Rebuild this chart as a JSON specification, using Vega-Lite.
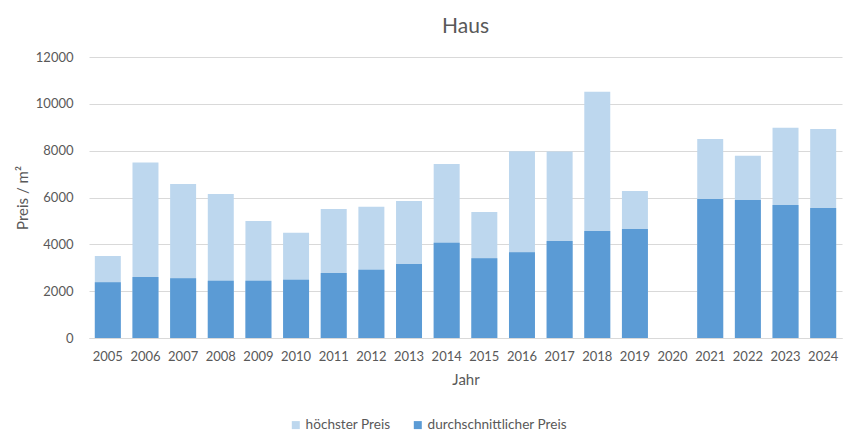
{
  "$schema": "https://vega.github.io/schema/vega-lite/v6.json",
  "autosize": {"type": "none"},
  "padding": {"left": 89, "top": 57, "right": 7, "bottom": 96},
  "width": 753,
  "height": 281,
  "background": "white",
  "title": {"text": "Haus", "anchor": "middle", "fontSize": 21, "font": "Lato", "fontWeight": "normal", "color": "#595959", "offset": 14},
  "config": {
    "view": {"stroke": null},
    "axis": {"labelFont": "Lato", "titleFont": "Lato", "labelColor": "#595959", "titleColor": "#595959", "labelFontSize": 13, "titleFontSize": 15, "titleFontWeight": "normal"},
    "legend": {"labelFont": "Lato", "labelColor": "#595959", "labelFontSize": 13.6}
  },
  "data": {"values": [
    {"Jahr": "2005", "Serie": "höchster Preis", "Preis": 3500},
    {"Jahr": "2006", "Serie": "höchster Preis", "Preis": 7500},
    {"Jahr": "2007", "Serie": "höchster Preis", "Preis": 6580},
    {"Jahr": "2008", "Serie": "höchster Preis", "Preis": 6150},
    {"Jahr": "2009", "Serie": "höchster Preis", "Preis": 5000},
    {"Jahr": "2010", "Serie": "höchster Preis", "Preis": 4500},
    {"Jahr": "2011", "Serie": "höchster Preis", "Preis": 5510},
    {"Jahr": "2012", "Serie": "höchster Preis", "Preis": 5600},
    {"Jahr": "2013", "Serie": "höchster Preis", "Preis": 5850},
    {"Jahr": "2014", "Serie": "höchster Preis", "Preis": 7430},
    {"Jahr": "2015", "Serie": "höchster Preis", "Preis": 5380},
    {"Jahr": "2016", "Serie": "höchster Preis", "Preis": 7980},
    {"Jahr": "2017", "Serie": "höchster Preis", "Preis": 7960},
    {"Jahr": "2018", "Serie": "höchster Preis", "Preis": 10520},
    {"Jahr": "2019", "Serie": "höchster Preis", "Preis": 6280},
    {"Jahr": "2021", "Serie": "höchster Preis", "Preis": 8500},
    {"Jahr": "2022", "Serie": "höchster Preis", "Preis": 7780},
    {"Jahr": "2023", "Serie": "höchster Preis", "Preis": 8975},
    {"Jahr": "2024", "Serie": "höchster Preis", "Preis": 8930},
    {"Jahr": "2005", "Serie": "durchschnittlicher Preis", "Preis": 2385},
    {"Jahr": "2006", "Serie": "durchschnittlicher Preis", "Preis": 2600},
    {"Jahr": "2007", "Serie": "durchschnittlicher Preis", "Preis": 2555},
    {"Jahr": "2008", "Serie": "durchschnittlicher Preis", "Preis": 2440},
    {"Jahr": "2009", "Serie": "durchschnittlicher Preis", "Preis": 2440},
    {"Jahr": "2010", "Serie": "durchschnittlicher Preis", "Preis": 2485},
    {"Jahr": "2011", "Serie": "durchschnittlicher Preis", "Preis": 2780},
    {"Jahr": "2012", "Serie": "durchschnittlicher Preis", "Preis": 2910},
    {"Jahr": "2013", "Serie": "durchschnittlicher Preis", "Preis": 3155},
    {"Jahr": "2014", "Serie": "durchschnittlicher Preis", "Preis": 4065},
    {"Jahr": "2015", "Serie": "durchschnittlicher Preis", "Preis": 3410},
    {"Jahr": "2016", "Serie": "durchschnittlicher Preis", "Preis": 3665},
    {"Jahr": "2017", "Serie": "durchschnittlicher Preis", "Preis": 4140},
    {"Jahr": "2018", "Serie": "durchschnittlicher Preis", "Preis": 4565},
    {"Jahr": "2019", "Serie": "durchschnittlicher Preis", "Preis": 4650},
    {"Jahr": "2021", "Serie": "durchschnittlicher Preis", "Preis": 5935},
    {"Jahr": "2022", "Serie": "durchschnittlicher Preis", "Preis": 5895},
    {"Jahr": "2023", "Serie": "durchschnittlicher Preis", "Preis": 5680},
    {"Jahr": "2024", "Serie": "durchschnittlicher Preis", "Preis": 5550}
  ]},
  "encoding": {
    "x": {"field": "Jahr", "type": "nominal",
      "scale": {"domain": ["2005","2006","2007","2008","2009","2010","2011","2012","2013","2014","2015","2016","2017","2018","2019","2020","2021","2022","2023","2024"], "paddingInner": 0.31, "paddingOuter": 0.155},
      "axis": {"title": "Jahr", "labelAngle": 0, "ticks": false, "domainColor": "#d9d9d9", "labelPadding": 12, "titlePadding": 9}},
    "y": {"field": "Preis", "type": "quantitative",
      "scale": {"domain": [0, 12000]},
      "axis": {"title": "Preis / m²", "format": "d", "values": [0,2000,4000,6000,8000,10000,12000], "domain": false, "ticks": false, "gridColor": "#d9d9d9", "labelPadding": 16, "titlePadding": 5}},
    "color": {"field": "Serie", "type": "nominal",
      "scale": {"domain": ["höchster Preis", "durchschnittlicher Preis"], "range": ["#BDD7EE", "#5B9BD5"]},
      "legend": {"title": null, "orient": "none", "legendX": 200, "legendY": 361, "direction": "horizontal", "symbolType": "square", "symbolSize": 64, "symbolStrokeWidth": 0, "columnPadding": 20, "labelOffset": 3}}
  },
  "layer": [
    {"transform": [{"filter": "datum.Serie === 'höchster Preis'"}], "mark": {"type": "bar", "stroke": null}},
    {"transform": [{"filter": "datum.Serie === 'durchschnittlicher Preis'"}], "mark": {"type": "bar", "stroke": null}}
  ]
}
